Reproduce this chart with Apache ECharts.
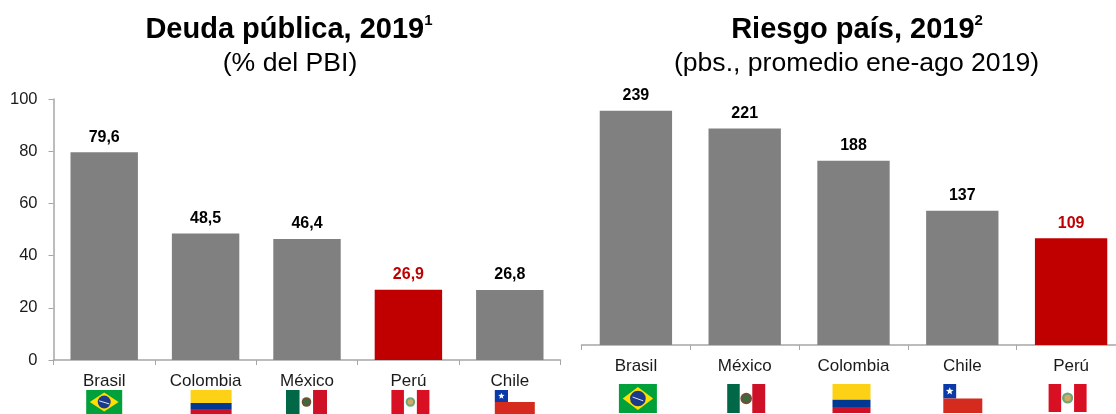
<!DOCTYPE html>
<html>
<head>
<meta charset="utf-8">
<style>html,body{margin:0;padding:0;background:#fff}#chart{width:1116px;height:414px}</style>
<script src="https://cdn.jsdelivr.net/npm/echarts@6/dist/echarts.min.js"></script>
</head>
<body>
<div id="chart"></div>
<script>
// Public debt, 2019 (% of GDP)
const deudaPaises = ['Brasil', 'Colombia', 'México', 'Perú', 'Chile'];
const deudaValores = [79.6, 48.5, 46.4, 26.9, 26.8];
// Country risk, Jan-Aug 2019 average (bps)
const riesgoPaises = ['Brasil', 'México', 'Colombia', 'Chile', 'Perú'];
const riesgoValores = [239, 221, 188, 137, 109];

const FONT = '"Liberation Sans", Arial, sans-serif';
const GRAY = '#808080', RED = '#c00000', AXIS = '#a6a6a6';
const highlighted = 'Perú';

// Small flag artwork, drawn inside a w x h box at (x, y)
function rect(x, y, w, h, fill) {
  return { type: 'rect', shape: { x, y, width: w, height: h }, style: { fill } };
}
function emblem(cx, cy, r, colors) {
  return colors.map((fill, i) => ({
    type: 'circle',
    shape: { cx, cy, r: r * (1 - i * 0.42) },
    style: { fill }
  }));
}
function starPoints(cx, cy, r) {
  const pts = [];
  for (let i = 0; i < 10; i++) {
    const a = -Math.PI / 2 + i * Math.PI / 5, d = i % 2 ? r * 0.42 : r;
    pts.push([cx + d * Math.cos(a), cy + d * Math.sin(a)]);
  }
  return pts;
}
const flags = {
  'Brasil': (x, y, w, h) => [
    rect(x, y, w, h, '#00a13a'),
    { type: 'polygon', shape: { points: [[x + w * 0.1, y + h / 2], [x + w / 2, y + h * 0.1], [x + w * 0.9, y + h / 2], [x + w / 2, y + h * 0.9]] }, style: { fill: '#fedf00' } },
    { type: 'circle', shape: { cx: x + w / 2, cy: y + h / 2, r: h * 0.27 }, style: { fill: '#1b3a8c' } },
    { type: 'line', shape: { x1: x + w * 0.36, y1: y + h * 0.45, x2: x + w * 0.64, y2: y + h * 0.58 }, style: { stroke: '#dfe6f2', lineWidth: 1 } }
  ],
  'Colombia': (x, y, w, h) => [
    rect(x, y, w, h * 0.54, '#fcd116'),
    rect(x, y + h * 0.54, w, h * 0.25, '#003893'),
    rect(x, y + h * 0.79, w, h * 0.21, '#ce1126')
  ],
  'México': (x, y, w, h) => [
    rect(x, y, w * 0.33, h, '#006847'),
    rect(x + w * 0.66, y, w * 0.34, h, '#ce1126'),
    ...emblem(x + w / 2, y + h / 2, h * 0.2, ['#6b5230', '#3c6a40'])
  ],
  'Perú': (x, y, w, h) => [
    rect(x, y, w * 0.33, h, '#d91023'),
    rect(x + w * 0.67, y, w * 0.33, h, '#d91023'),
    ...emblem(x + w / 2, y + h / 2, h * 0.2, ['#6fa77a', '#d0ad60'])
  ],
  'Chile': (x, y, w, h) => [
    rect(x, y, w * 0.33, h / 2, '#0a3aa8'),
    rect(x, y + h / 2, w, h / 2, '#d52b1e'),
    { type: 'polygon', shape: { points: starPoints(x + w * 0.165, y + h * 0.25, h * 0.14) }, style: { fill: '#fff' } }
  ]
};

// Flag placement relative to each category centre and the axis baseline
const flagLayoutDeuda = {
  'Brasil': { dx: -18, w: 36, top: 30, h: 24 }, 'Colombia': { dx: -15, w: 41, top: 30, h: 24 },
  'México': { dx: -21, w: 41, top: 30, h: 24 }, 'Perú': { dx: -17, w: 38, top: 30, h: 24 },
  'Chile': { dx: -15, w: 40, top: 30, h: 24 }
};
const flagLayoutRiesgo = {
  'Brasil': { dx: -17, w: 38, top: 39, h: 29 }, 'México': { dx: -17.5, w: 38, top: 39, h: 29 },
  'Colombia': { dx: -21, w: 38, top: 39, h: 29 }, 'Chile': { dx: -19, w: 39, top: 39, h: 29 },
  'Perú': { dx: -22.5, w: 38, top: 39, h: 28 }
};

function barData(names, values) {
  return values.map((value, i) => ({
    value,
    itemStyle: { color: names[i] === highlighted ? RED : GRAY },
    label: { color: names[i] === highlighted ? RED : '#000' }
  }));
}
function barSeries(idx, names, values, fmt) {
  return {
    type: 'bar', xAxisIndex: idx, yAxisIndex: idx, barWidth: '66.5%',
    data: barData(names, values),
    label: { show: true, position: 'top', distance: 7, fontFamily: FONT, fontSize: 16, fontWeight: 'bold', formatter: fmt },
    animation: false
  };
}
function flagSeries(idx, names, layout) {
  return {
    type: 'custom', xAxisIndex: idx, yAxisIndex: idx, clip: false, animation: false, silent: true,
    data: names.map((_, i) => [i, 0]),
    renderItem(params, api) {
      const p = api.coord([api.value(0), 0]);
      const name = names[api.value(0)];
      const l = layout[name];
      return { type: 'group', children: flags[name](p[0] + l.dx, p[1] + l.top, l.w, l.h) };
    }
  };
}
function xAxis(idx, names) {
  return {
    type: 'category', gridIndex: idx, data: names,
    axisLine: { lineStyle: { color: AXIS, width: 1.5 } },
    axisTick: { show: true, alignWithLabel: false, length: 5, lineStyle: { color: AXIS } },
    axisLabel: { interval: 0, color: '#1a1a1a', fontFamily: FONT, fontSize: 17, margin: 13 }
  };
}
function titleBlock(cx, subCx, main, sup, sub) {
  return [
    {
      left: cx, top: 8, textAlign: 'center', text: `{m|${main}}{s|${sup}}`,
      textStyle: { rich: {
        m: { fontFamily: FONT, fontSize: 29, fontWeight: 'bold', color: '#000', lineHeight: 34 },
        s: { fontFamily: FONT, fontSize: 15, fontWeight: 'bold', color: '#000', lineHeight: 32, verticalAlign: 'top' }
      } }
    },
    { left: subCx, top: 45, textAlign: 'center', text: sub, textStyle: { fontFamily: FONT, fontSize: 26.6, fontWeight: 'normal', color: '#000' } }
  ];
}

const chart = echarts.init(document.getElementById('chart'), null, { renderer: 'canvas' });
chart.setOption({
  backgroundColor: '#fff',
  animation: false,
  title: [
    ...titleBlock(284, 285, 'Deuda pública, 2019', '1', '(% del PBI)'),
    ...titleBlock(852, 851.5, 'Riesgo país, 2019', '2', '(pbs., promedio ene-ago 2019)')
  ],
  grid: [
    { left: 53.5, top: 99, width: 507, height: 261, outerBoundsMode: 'none' },
    { left: 581.5, top: 100, width: 544, height: 245, outerBoundsMode: 'none' }
  ],
  xAxis: [xAxis(0, deudaPaises), xAxis(1, riesgoPaises)],
  yAxis: [
    {
      type: 'value', gridIndex: 0, min: 0, max: 100, interval: 20,
      splitLine: { show: false },
      axisLine: { show: true, lineStyle: { color: AXIS, width: 1.5 } },
      axisTick: { show: true, length: 5, lineStyle: { color: AXIS } },
      axisLabel: { color: '#1a1a1a', fontFamily: FONT, fontSize: 16.5, margin: 16 }
    },
    { type: 'value', gridIndex: 1, min: 0, max: 250, show: false, splitLine: { show: false } }
  ],
  series: [
    barSeries(0, deudaPaises, deudaValores, p => p.value.toFixed(1).replace('.', ',')),
    barSeries(1, riesgoPaises, riesgoValores, p => String(p.value)),
    flagSeries(0, deudaPaises, flagLayoutDeuda),
    flagSeries(1, riesgoPaises, flagLayoutRiesgo)
  ]
});
</script>
</body>
</html>
